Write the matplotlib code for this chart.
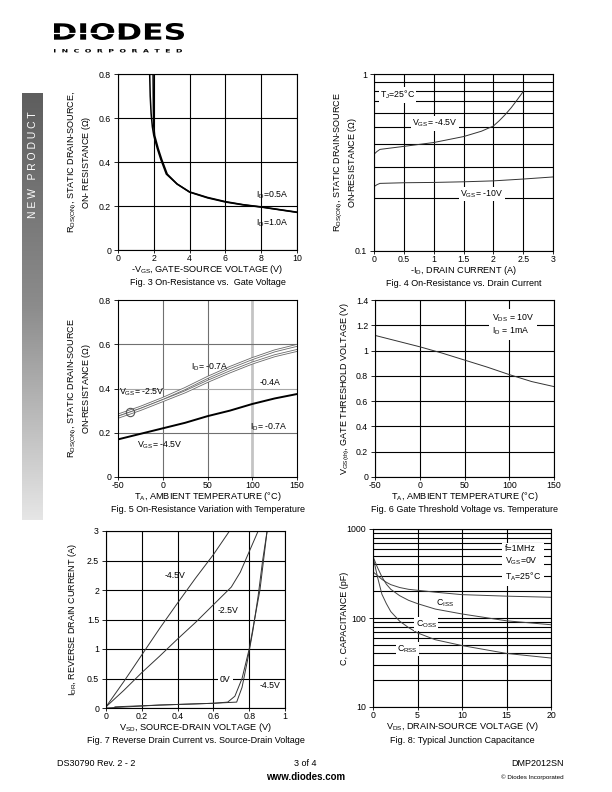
import numpy as np
import matplotlib
matplotlib.use("Agg")
import matplotlib.pyplot as plt
from matplotlib.textpath import TextPath
from matplotlib.patches import PathPatch
from matplotlib.font_manager import FontProperties
from matplotlib.transforms import Affine2D

plt.rcParams['font.family'] = ['Liberation Sans', 'DejaVu Sans']
plt.rcParams['font.size'] = 6.5
plt.rcParams['axes.unicode_minus'] = False
plt.rcParams['mathtext.fontset'] = 'custom'
plt.rcParams['mathtext.rm'] = 'Liberation Sans'
plt.rcParams['mathtext.it'] = 'Liberation Sans:italic'
plt.rcParams['mathtext.bf'] = 'Liberation Sans:bold'
plt.rcParams['mathtext.default'] = 'regular'

# ---- Fig. 3 : R_DS(on) vs -V_GS
f3_vgs_a = [1.77, 1.80, 1.85, 1.92, 2.0, 2.2, 2.4, 2.7, 3.3, 4.0, 5.0, 6.0, 7.0, 8.0, 9.0, 10.0]
f3_r_a = [0.80, 0.70, 0.62, 0.56, 0.52, 0.46, 0.41, 0.345, 0.30, 0.263, 0.237, 0.218, 0.205, 0.195, 0.183, 0.171]
f3_vgs_b = [1.96, 1.97, 1.98, 2.0, 2.05, 2.25, 2.45, 2.75, 3.3, 4.0, 5.0, 6.0, 7.0, 8.0, 9.0, 10.0]
f3_r_b = [0.80, 0.70, 0.62, 0.56, 0.52, 0.46, 0.41, 0.345, 0.30, 0.264, 0.239, 0.220, 0.206, 0.196, 0.184, 0.172]

# ---- Fig. 4 : R_DS(on) vs -I_D (log)
f4_id_45 = [0, 0.05, 0.1, 0.5, 1.0, 1.5, 1.8, 2.0, 2.1, 2.2, 2.3, 2.4, 2.5]
f4_r_45 = [0.352, 0.365, 0.375, 0.39, 0.41, 0.443, 0.475, 0.508, 0.545, 0.59, 0.645, 0.715, 0.795]
f4_id_10 = [0, 0.05, 0.1, 0.5, 1.0, 1.5, 2.0, 2.5, 3.0]
f4_r_10 = [0.231, 0.237, 0.241, 0.243, 0.244, 0.246, 0.249, 0.255, 0.262]

# ---- Fig. 5 : R_DS(on) vs T_A
f5_t = [-50, -25, 0, 25, 50, 75, 100, 125, 150]
f5_r_25_07 = [0.28, 0.315, 0.355, 0.40, 0.45, 0.495, 0.535, 0.57, 0.595]
f5_r_25_04 = [0.27, 0.305, 0.345, 0.385, 0.432, 0.475, 0.515, 0.548, 0.572]
f5_r_45_07 = [0.17, 0.195, 0.22, 0.245, 0.275, 0.30, 0.33, 0.355, 0.375]

# ---- Fig. 6 : V_GS(th) vs T_A
f6_t = [-50, -25, 0, 25, 50, 75, 100, 125, 150]
f6_v = [1.12, 1.075, 1.03, 0.98, 0.925, 0.87, 0.81, 0.755, 0.715]

# ---- Fig. 7 : I_DR vs V_SD
f7_v_45 = [0, 0.1, 0.2, 0.3, 0.4, 0.5, 0.6, 0.69]
f7_i_45 = [0.02, 0.45, 0.9, 1.35, 1.78, 2.2, 2.6, 3.0]
f7_v_25 = [0, 0.1, 0.2, 0.3, 0.4, 0.5, 0.6, 0.7, 0.75, 0.8, 0.85]
f7_i_25 = [0.02, 0.3, 0.6, 0.88, 1.17, 1.45, 1.75, 2.05, 2.3, 2.65, 3.0]
f7_v_0 = [0.05, 0.3, 0.6, 0.68, 0.72, 0.76, 0.80, 0.83, 0.86, 0.88, 0.90]
f7_i_0 = [0.02, 0.05, 0.08, 0.10, 0.20, 0.50, 1.0, 1.5, 2.0, 2.5, 3.0]
f7_v_45b = [0.0, 0.3, 0.6, 0.73, 0.76, 0.79, 0.82, 0.85, 0.875, 0.90]
f7_i_45b = [0.0, 0.05, 0.08, 0.10, 0.35, 0.80, 1.3, 1.9, 2.5, 3.0]

# ---- Fig. 8 : capacitance vs V_DS (log)
f8_v = [0, 0.5, 1, 1.5, 2, 3, 4, 5, 7, 10, 15, 20]
f8_ciss = [330, 300, 272, 252, 237, 220, 210, 205, 195, 183, 176, 171]
f8_coss = [490, 370, 290, 240, 210, 178, 158, 145, 126, 111, 93, 84]
f8_crss = [490, 290, 185, 145, 118, 92, 78, 68, 57, 49, 40, 35.5]

fig = plt.figure(figsize=(6.12, 7.92), dpi=100)

# page background layer in pixel coordinates
bg = fig.add_axes([0, 0, 1, 1], zorder=-5)
bg.axis('off')

# side banner
grad = np.linspace(0, 1, 256).reshape(-1, 1)
cm = matplotlib.colors.LinearSegmentedColormap.from_list('g', ['#5e5e5e', '#8c8c8c', '#e6e6e6'])
bg.imshow(grad, cmap=cm, extent=[22, 43, 520, 93], aspect='auto')
bg.set_xlim(0, 612)
bg.set_ylim(792, 0)
bg.text(32.5, 165, "N E W   P R O D U C T", rotation=90, color='white', fontsize=7.5,
        ha='center', va='center')


def path_text(s, x0, y_base, w, h, prop):
    tp = TextPath((0, 0), s, size=10, prop=prop)
    ext = tp.get_extents()
    tr = Affine2D().translate(-ext.x0, -ext.y0).scale(w / ext.width, -h / ext.height).translate(x0, y_base)
    bg.add_patch(PathPatch(tr.transform_path(tp), fc='black', ec='none'))


path_text("DIODES", 54, 40, 130, 17, FontProperties(family='DejaVu Sans', weight='bold'))
bg.plot([54, 118], [32.5, 32.5], color='white', lw=0.9)
path_text("I  N  C  O  R  P  O  R  A  T  E  D", 54, 52.5, 128, 3.5,
          FontProperties(family='DejaVu Sans', weight='bold'))

# footer
bg.text(57, 763, "DS30790 Rev. 2 - 2", fontsize=6.5, va='center')
bg.text(305, 763, "3 of 4", fontsize=6.5, ha='center', va='center')
bg.text(306, 777, "www.diodes.com", fontsize=7, fontweight='bold', ha='center', va='center')
bg.text(564, 763, "DMP2012SN", fontsize=6.5, ha='right', va='center')
bg.text(564, 777, "\u00a9 Diodes Incorporated", fontsize=4.5, ha='right', va='center')

W, H = 612.0, 792.0


def make_ax(left, top, w, h):
    ax = fig.add_axes([left / W, 1 - (top + h) / H, w / W, h / H])
    ax.tick_params(labelsize=6.3, direction='out', width=0.6, colors='black')
    ax.tick_params(axis='x', length=2, pad=1)
    ax.tick_params(axis='y', length=3, pad=2)
    for sp in ax.spines.values():
        sp.set_linewidth(0.8)
        sp.set_color('black')
    ax.set_axisbelow(True)
    return ax


def labels(ax, ylab, ylx, xlab, cap):
    ax.text(ylx, 0.5, ylab, rotation=90, ha='center', va='center', transform=ax.transAxes,
            fontsize=6.5, linespacing=1.15)
    ax.text(0.5, -0.11, xlab, ha='center', va='center', transform=ax.transAxes, fontsize=6.6)
    ax.text(0.5, -0.186, cap, ha='center', va='center', transform=ax.transAxes, fontsize=6.5)


wb = dict(fc='white', ec='none', pad=1)

# ---------- Fig 3
ax3 = make_ax(118, 74, 179, 176)
ax3.set_xlim(0, 10)
ax3.set_ylim(0, 0.8)
ax3.set_xticks([0, 2, 4, 6, 8, 10])
ax3.set_yticks([0, 0.2, 0.4, 0.6, 0.8])
ax3.set_yticklabels(["0", "0.2", "0.4", "0.6", "0.8"])
ax3.grid(True, color='black', lw=0.8)
ax3.plot(f3_vgs_a, f3_r_a, color='black', lw=1.1)
ax3.plot(f3_vgs_b, f3_r_b, color='black', lw=1.1)
ax3.text(7.7, 0.25, "I$_D$=0.5A", fontsize=6.3, va='center')
ax3.text(7.7, 0.123, "I$_D$=1.0A", fontsize=6.3, va='center')
labels(ax3, "R$_{DS(ON)}$, STATIC DRAIN-SOURCE,\nON- RESISTANCE ($\\Omega$)", -0.215,
       "-V$_{GS}$, GATE-SOURCE VOLTAGE (V)", "Fig. 3 On-Resistance vs.  Gate Voltage")

# ---------- Fig 4
ax4 = make_ax(374, 74, 179, 177)
ax4.set_yscale('log')
ax4.set_xlim(0, 3)
ax4.set_ylim(0.1, 1)
ax4.set_xticks([0, 0.5, 1, 1.5, 2, 2.5, 3])
ax4.set_xticklabels(["0", "0.5", "1", "1.5", "2", "2.5", "3"])
ax4.set_yticks([0.1, 1])
ax4.set_yticklabels(["0.1", "1"])
ax4.set_yticks(np.arange(0.2, 1.0, 0.1), minor=True)
ax4.tick_params(axis='y', which='minor', length=0, labelleft=False)
ax4.grid(True, which='both', color='black', lw=0.8)
ax4.plot(f4_id_45, f4_r_45, color='#333333', lw=0.7)
ax4.plot(f4_id_10, f4_r_10, color='#333333', lw=0.7)
ax4.text(0.1, 0.76, "T$_J$=25\u00b0C", fontsize=6.3, va='center', bbox=wb)
ax4.text(1.02, 0.526, "V$_{GS}$= -4.5V", fontsize=6.3, ha='center', va='center', bbox=wb)
ax4.text(1.81, 0.21, "V$_{GS}$= -10V", fontsize=6.3, ha='center', va='center', bbox=wb)
labels(ax4, "R$_{DS(ON)}$, STATIC DRAIN-SOURCE\nON-RESISTANCE ($\\Omega$)", -0.16,
       "-I$_D$, DRAIN CURRENT (A)", "Fig. 4 On-Resistance vs. Drain Current")

# ---------- Fig 5
ax5 = make_ax(118, 300, 179, 177)
ax5.set_xlim(-50, 150)
ax5.set_ylim(0, 0.8)
ax5.set_xticks([-50, 0, 50, 100, 150])
ax5.set_yticks([0, 0.2, 0.4, 0.6, 0.8])
ax5.set_yticklabels(["0", "0.2", "0.4", "0.6", "0.8"])
for xv in [0, 50]:
    ax5.axvline(xv, color='#707070', lw=0.8, zorder=0)
ax5.axvline(100, color='#c4c4c4', lw=2.0, zorder=0)
for yv, c in [(0.2, '#707070'), (0.4, '#a8a8a8'), (0.6, '#707070')]:
    ax5.axhline(yv, color=c, lw=0.8, zorder=0)
for r in [f5_r_25_07, f5_r_25_04]:
    ax5.plot(f5_t, r, color='#6a6a6a', lw=2.0)
    ax5.plot(f5_t, r, color='white', lw=0.8)
ax5.plot(f5_t, f5_r_45_07, color='black', lw=1.4)
ax5.plot([-37], [0.293], marker='o', ms=6, mfc='none', mec='#555555', mew=0.8)
ax5.text(53, 0.50, "I$_D$= -0.7A", fontsize=6.3, ha='center', va='center')
ax5.text(120, 0.425, "-0.4A", fontsize=6.3, ha='center', va='center')
ax5.text(-24, 0.385, "V$_{GS}$= -2.5V", fontsize=6.3, ha='center', va='center')
ax5.text(118, 0.226, "I$_D$= -0.7A", fontsize=6.3, ha='center', va='center')
ax5.text(-3, 0.145, "V$_{GS}$= -4.5V", fontsize=6.3, ha='center', va='center')
labels(ax5, "R$_{DS(ON)}$, STATIC DRAIN-SOURCE\nON-RESISTANCE ($\\Omega$)", -0.215,
       "T$_A$, AMBIENT TEMPERATURE (\u00b0C)", "Fig. 5 On-Resistance Variation with Temperature")

# ---------- Fig 6
ax6 = make_ax(375, 300, 179, 177)
ax6.set_xlim(-50, 150)
ax6.set_ylim(0, 1.4)
ax6.set_xticks([-50, 0, 50, 100, 150])
ax6.set_yticks([0, 0.2, 0.4, 0.6, 0.8, 1.0, 1.2, 1.4])
ax6.set_yticklabels(["0", "0.2", "0.4", "0.6", "0.8", "1", "1.2", "1.4"])
ax6.grid(True, color='black', lw=0.8)
ax6.plot(f6_t, f6_v, color='#333333', lw=0.7)
ax6.text(81, 1.205, "V$_{DS}$ = 10V\nI$_D$ = 1mA", fontsize=6.3, ha='left', va='center',
         linespacing=1.1, bbox=dict(fc='white', ec='none', pad=2))
labels(ax6, "V$_{GS(th)}$, GATE THRESHOLD VOLTAGE (V)", -0.165,
       "T$_A$, AMBIENT TEMPERATURE (\u00b0C)", "Fig. 6 Gate Threshold Voltage vs. Temperature")

# ---------- Fig 7
ax7 = make_ax(106, 531, 179, 177)
ax7.set_xlim(0, 1)
ax7.set_ylim(0, 3)
ax7.set_xticks([0, 0.2, 0.4, 0.6, 0.8, 1.0])
ax7.set_xticklabels(["0", "0.2", "0.4", "0.6", "0.8", "1"])
ax7.set_yticks([0, 0.5, 1, 1.5, 2, 2.5, 3])
ax7.set_yticklabels(["0", "0.5", "1", "1.5", "2", "2.5", "3"])
ax7.grid(True, color='black', lw=0.8)
ax7.plot(f7_v_45, f7_i_45, color='#333333', lw=0.7)
ax7.plot(f7_v_25, f7_i_25, color='#333333', lw=0.7)
ax7.plot(f7_v_0, f7_i_0, color='#333333', lw=0.7)
ax7.plot(f7_v_45b, f7_i_45b, color='#333333', lw=0.7)
ax7.text(0.385, 2.24, "-4.5V", fontsize=6.3, ha='center', va='center')
ax7.text(0.683, 1.65, "-2.5V", fontsize=6.3, ha='center', va='center')
ax7.text(0.665, 0.49, "0V", fontsize=6.3, ha='center', va='center',
         bbox=dict(fc='white', ec='none', pad=1.5))
ax7.text(0.915, 0.385, "-4.5V", fontsize=6.3, ha='center', va='center')
labels(ax7, "I$_{DR}$, REVERSE DRAIN CURRENT (A)", -0.185,
       "V$_{SD}$, SOURCE-DRAIN VOLTAGE (V)", "Fig. 7 Reverse Drain Current vs. Source-Drain Voltage")

# ---------- Fig 8
ax8 = make_ax(373, 529, 178, 178)
ax8.set_yscale('log')
ax8.set_xlim(0, 20)
ax8.set_ylim(10, 1000)
ax8.set_xticks([0, 5, 10, 15, 20])
ax8.set_yticks([10, 100, 1000])
ax8.set_yticklabels(["10", "100", "1000"])
ax8.set_yticks(list(range(20, 100, 10)) + list(range(200, 1000, 100)), minor=True)
ax8.tick_params(axis='y', which='minor', length=0, labelleft=False)
ax8.grid(True, which='both', color='black', lw=0.8)
ax8.plot(f8_v, f8_ciss, color='#444444', lw=0.7)
ax8.plot(f8_v, f8_coss, color='#444444', lw=0.7)
ax8.plot(f8_v, f8_crss, color='#444444', lw=0.7)
ax8.text(8.1, 145, "C$_{ISS}$", fontsize=6.3, ha='center', va='center')
ax8.text(6.0, 86, "C$_{OSS}$", fontsize=6.3, ha='center', va='center', bbox=wb)
ax8.text(3.9, 45, "C$_{RSS}$", fontsize=6.3, ha='center', va='center', bbox=wb)
ax8.text(14.8, 410, "f=1MHz\nV$_{GS}$=0V\nT$_A$=25\u00b0C", fontsize=6.3, ha='left', va='center',
         linespacing=1.35, bbox=dict(fc='white', ec='none', pad=2))
labels(ax8, "C, CAPACITANCE (pF)", -0.16,
       "V$_{DS}$, DRAIN-SOURCE VOLTAGE (V)", "Fig. 8: Typical Junction Capacitance")

fig.savefig("out.png", dpi=100)
